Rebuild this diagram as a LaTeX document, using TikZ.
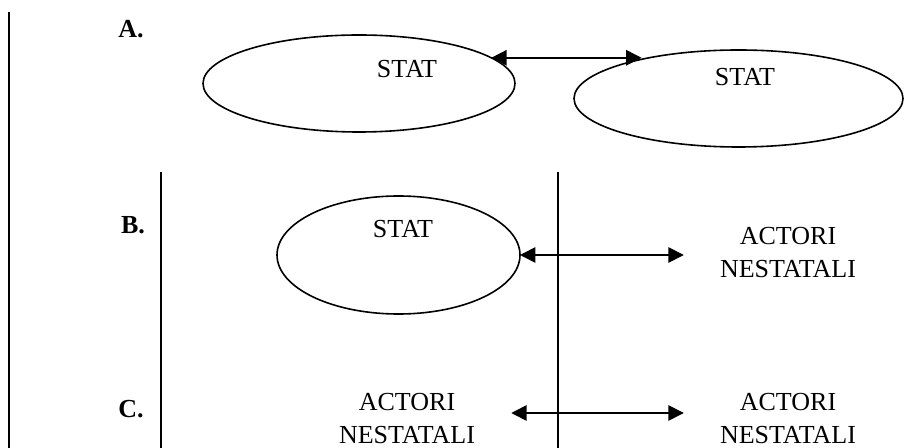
\documentclass[tikz,border=0pt]{standalone}
\usepackage{fontspec}
\setmainfont{Liberation Serif}
\usepackage{tikz}
\usetikzlibrary{arrows.meta,positioning,shapes.geometric,calc}

\begin{document}
\begin{tikzpicture}[x=0.75pt,y=-0.75pt,
    ell/.style={draw,ellipse,line width=1.2pt,inner sep=0pt,outer sep=0pt},
    txt/.style={font=\fontsize{19.5}{24.75}\selectfont,inner sep=0pt},
    actor/.style={txt,align=center,inner xsep=27pt},
    tag/.style={font=\fontsize{19.5}{24.75}\selectfont\bfseries,inner sep=0pt},
    rule/.style={line width=1.4pt},
    link/.style={line width=1.2pt,{Triangle[length=11.5pt,width=11.5pt]}-{Triangle[length=11.5pt,width=11.5pt]}}]
  \useasboundingbox (0,0) rectangle (919,448);
  % Separator lines
  \draw[rule] (9,12) -- (9,448);
  \draw[rule] (161,172) -- (161,448);
  \draw[rule] (558,172) -- (558,448);
  % Row labels
  \node[tag] (la) at (131,29) {A.};
  \node[tag] (lb) at (133,225) {B.};
  \node[tag] (lc) at (131,409) {C.};
  % A: state -- state
  \node[ell,minimum width=234pt,minimum height=72.75pt] (sa) at (359,83.5) {};
  \node[txt] (ta) at (407,69) {STAT};
  \node[ell,minimum width=246.75pt,minimum height=72.75pt] (sb) at (738.5,98.5) {};
  \node[txt] (tb) at (745,77) {STAT};
  \draw[link] (sa.11) -- (sa.11 -| sb.158);
  % B: state -- non-state actors
  \node[ell,minimum width=182.25pt,minimum height=88.5pt] (eb) at (398.5,255) {};
  \node[txt] (tc) at (403,229) {STAT};
  \node[actor] (nb) at (788,253) {ACTORI\\NESTATALI};
  \draw[link] (eb.east) -- (eb.east -| nb.west);
  % C: non-state actors -- non-state actors
  \node[actor] (nc1) at (407,419) {ACTORI\\NESTATALI};
  \node[actor] (nc2) at (788,419) {ACTORI\\NESTATALI};
  \draw[link] ([yshift=4.5pt]nc1.east) -- ([yshift=4.5pt]nc2.west);
\end{tikzpicture}
\end{document}
